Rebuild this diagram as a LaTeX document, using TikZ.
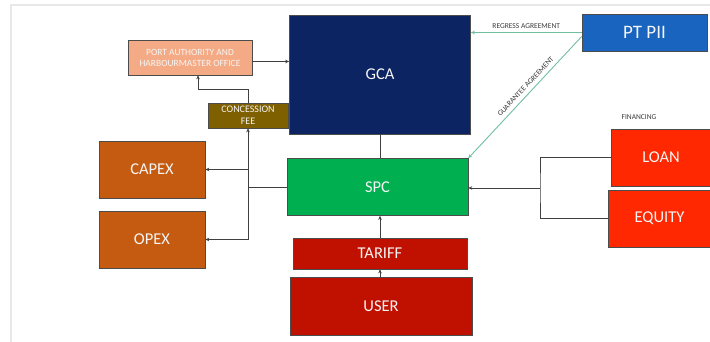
\documentclass[tikz,border=0pt]{standalone}
\usepackage{fontspec}
\setmainfont{Carlito}
\usetikzlibrary{arrows.meta,calc}
\definecolor{gcaC}{RGB}{12,36,98}
\definecolor{portC}{RGB}{244,170,132}
\definecolor{concC}{RGB}{127,96,0}
\definecolor{ptC}{RGB}{24,100,190}
\definecolor{capC}{RGB}{197,90,17}
\definecolor{spcC}{RGB}{0,176,80}
\definecolor{tarC}{RGB}{192,16,0}
\definecolor{loanC}{RGB}{255,40,0}
\definecolor{lineC}{RGB}{64,64,64}
\definecolor{grnC}{RGB}{112,192,160}
\definecolor{txtC}{RGB}{245,245,245}
\definecolor{lblC}{RGB}{60,60,60}
\definecolor{frameC}{RGB}{232,232,232}
\tikzset{
  box/.style={draw=gray!60!black, line width=0.6pt, inner sep=0pt, text=txtC, align=center, font=\fontsize{16.5}{18}\selectfont},
  small/.style={font=\fontsize{9.5}{11}\selectfont},
  conn/.style={draw=lineC, line width=0.9pt},
  arr/.style={conn, -{Stealth[length=4pt,width=3.5pt]}},
  garr/.style={draw=grnC, line width=0.9pt, -{Stealth[length=4pt,width=3.5pt]}},
  lbl/.style={text=lblC, font=\fontsize{7.5}{8}\selectfont, inner sep=1pt}
}
\begin{document}
\begin{tikzpicture}[x=1pt,y=-1pt]
\useasboundingbox (0,0) rectangle (710,342);
\fill[white] (0,0) rectangle (710,342);
\draw[frameC, line width=1.2pt] (11,342) -- (11,5) -- (710,5);
% boxes
\node[box, fill=gcaC, minimum width=181pt, minimum height=119pt] (gca) at (380,74.5) {GCA};
\node[box, small, fill=portC, minimum width=124pt, minimum height=35pt] (port) at (190,57.5) {PORT AUTHORITY AND\\HARBOURMASTER OFFICE};
\node[box, fill=concC, minimum width=80pt, minimum height=25pt, font=\fontsize{10}{12}\selectfont] (conc) at (248,115.5) {CONCESSION\\FEE};
\node[box, fill=ptC, minimum width=125pt, minimum height=37pt, font=\fontsize{19}{21}\selectfont] (pt) at (644.5,32.5) {PT PII};
\node[box, fill=capC, minimum width=106pt, minimum height=57pt] (capex) at (152,169.5) {CAPEX};
\node[box, fill=capC, minimum width=106pt, minimum height=57pt] (opex) at (152,239.5) {OPEX};
\node[box, fill=spcC, minimum width=181pt, minimum height=57pt] (spc) at (377.5,187) {SPC};
\node[box, fill=tarC, minimum width=174pt, minimum height=31pt] (tariff) at (380,253.5) {TARIFF};
\node[box, fill=tarC, minimum width=182pt, minimum height=58pt] (user) at (381,306) {USER};
\node[box, fill=loanC, minimum width=104pt, minimum height=57pt] (loan) at (663,157.5) {\hspace*{-4pt}LOAN};
\node[box, fill=loanC, minimum width=109pt, minimum height=57pt] (equity) at (662.5,218.5) {\hspace*{-6pt}EQUITY};
\node[lbl] (fin) at (639,117) {FINANCING};
% connectors
\draw[arr] ([yshift=-4pt]port.east) -- ([yshift=-4pt]port.east -| gca.west);
\coordinate (j1) at (248,89);
\draw[arr] (conc.north) -- (j1) -| ([xshift=8pt]port.south);
\coordinate (vb) at (opex.east -| conc.south);
\draw[arr] (vb) -- (conc.south);
\draw[conn] (spc.west) -- (spc.west -| conc.south);
\draw[arr] (capex.east -| conc.south) -- (capex.east);
\draw[arr] (vb) -- (opex.east);
\draw[conn] (gca.south) -- (gca.south |- spc.north);
\draw[arr] (tariff.north) -- (tariff.north |- spc.south);
\draw[arr] (tariff.south |- user.north) -- (tariff.south);
\coordinate (fj) at (540,188);
\draw[conn] (loan.west) -| (fj) |- (equity.west);
\draw[arr] (fj) -- (fj -| spc.east);
\draw[garr] (pt.west) -- (pt.west -| gca.east) node[lbl, midway, above=2pt] (reg) {REGRESS AGREEMENT};
\draw[garr] ([yshift=-4pt]pt.west) -- (spc.north east) node[lbl, pos=0.45, sloped, above=3pt] (gua) {GUARANTEE AGREEMENT};
\end{tikzpicture}
\end{document}
